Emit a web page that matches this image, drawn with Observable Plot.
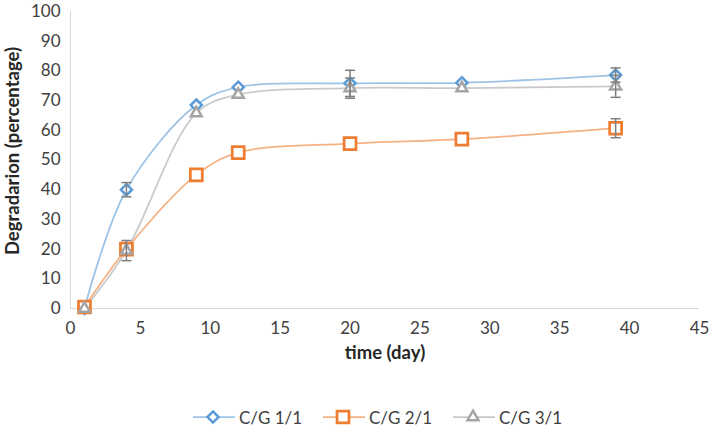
<!DOCTYPE html>
<html>
<head>
<meta charset="utf-8">
<script src="https://cdn.jsdelivr.net/npm/d3@7"></script>
<script src="https://cdn.jsdelivr.net/npm/@observablehq/plot@0.6"></script>
<style>
  body { margin: 0; background: #fff; font-family: Lato, "Open Sans", sans-serif; }
  #legend { display: flex; padding-left: 193px; margin-top: 26px; height: 22px; align-items: center; font-size: 17px; color: #404040; }
  .item { display: flex; align-items: center; width: 130px; }
  .item svg { margin-right: 4px; }
</style>
</head>
<body>
<div id="chart"></div>
<div id="legend"></div>
<script>
const days = [1, 4, 9, 12, 20, 28, 39];
const cg11 = [0, 40, 68.5, 74.5, 75.8, 76, 78.6];
const cg21 = [0.5, 20, 45, 52.5, 55.5, 57, 60.7];
const cg31 = [0, 19.5, 65.8, 72, 74.2, 74.2, 74.8];
const err11 = [0, 2.4, 0, 0, 4.4, 0, 2.4];
const err21 = [0, 0, 0, 0, 0, 0, 3.2];
const err31 = [0, 3.4, 0, 0, 3.4, 0, 3.7];
const seriesNames = ["C/G 1/1", "C/G 2/1", "C/G 3/1"];
const xTicks = [0, 5, 10, 15, 20, 25, 30, 35, 40, 45];
const yTicks = [0, 10, 20, 30, 40, 50, 60, 70, 80, 90, 100];
const xTitle = "time (day)";
const yTitle = "Degradarion (percentage)";

const style = [
  {name: seriesNames[0], vals: cg11, errs: err11, marker: "#5b9bd5", line: "#9dc3e6", symbol: d3.symbolDiamond2, r: 5, sw: 2.5},
  {name: seriesNames[1], vals: cg21, errs: err21, marker: "#ed7d31", line: "#f4b183", symbol: d3.symbolSquare2, r: 7.6, sw: 2.75},
  {name: seriesNames[2], vals: cg31, errs: err31, marker: "#a5a5a5", line: "#c9c9c9", symbol: d3.symbolTriangle2, r: 5.2, sw: 2.5}
];

const rows = style.map(s => days.map((d, i) => ({day: d, v: s.vals[i], e: s.errs[i], name: s.name})));
const errRows = rows.flat().filter(d => d.e > 0);

const cap = {draw(ctx) { ctx.moveTo(-5, 0); ctx.lineTo(5, 0); }};
const errColor = "#7f7f7f";

const marks = [
  Plot.ruleY([0], {stroke: "#d9d9d9", strokeWidth: 1}),
  Plot.ruleX([0], {stroke: "#d9d9d9", strokeWidth: 1}),
  Plot.axisX({ticks: xTicks, tickSize: 0, tickPadding: 13, label: null, fontSize: 17, fill: "#404040"}),
  Plot.axisY({ticks: yTicks, tickSize: 0, tickPadding: 10, label: null, fontSize: 17, fill: "#404040"}),
];
[2, 1, 0].forEach(k => {
  marks.push(Plot.line(rows[k], {x: "day", y: "v", stroke: style[k].line, strokeWidth: 1.75, curve: "catmull-rom"}));
});
style.forEach((s, k) => {
  marks.push(Plot.dot(rows[k], {x: "day", y: "v", symbol: s.symbol, r: s.r, stroke: s.marker, strokeWidth: s.sw, fill: "white"}));
});
marks.push(
  Plot.ruleX(errRows, {x: "day", y1: d => d.v - d.e, y2: d => d.v + d.e, stroke: errColor, strokeWidth: 1.5}),
  Plot.dot(errRows, {x: "day", y: d => d.v + d.e, symbol: cap, stroke: errColor, strokeWidth: 1.5}),
  Plot.dot(errRows, {x: "day", y: d => d.v - d.e, symbol: cap, stroke: errColor, strokeWidth: 1.5}),
  Plot.text([xTitle], {frameAnchor: "bottom", dy: 45, lineAnchor: "middle", textAnchor: "middle", fontWeight: "bold", fontSize: 18.5, fill: "#262626"}),
  Plot.text([yTitle], {frameAnchor: "left", dx: -57, dy: -9, rotate: -90, lineAnchor: "middle", textAnchor: "middle", fontWeight: "bold", fontSize: 18.5, fill: "#262626"})
);

const chart = Plot.plot({
  width: 709,
  height: 380,
  marginLeft: 70,
  marginRight: 10,
  marginTop: 11,
  marginBottom: 72,
  style: {fontFamily: "Lato, 'Open Sans', sans-serif", fontSize: "17px", background: "white"},
  x: {domain: [0, 45]},
  y: {domain: [0, 100]},
  marks
});
document.getElementById("chart").appendChild(chart);

const legend = d3.select("#legend");
style.forEach(s => {
  const item = legend.append("div").attr("class", "item");
  const svg = item.append("svg").attr("width", 42).attr("height", 20);
  svg.append("line").attr("x1", 0).attr("x2", 42).attr("y1", 10).attr("y2", 10).attr("stroke", s.line).attr("stroke-width", 1.75);
  svg.append("path").attr("transform", "translate(20,10)")
    .attr("d", d3.symbol(s.symbol, Math.PI * s.r * s.r)())
    .attr("fill", "white").attr("stroke", s.marker).attr("stroke-width", s.sw);
  item.append("span").text(s.name);
});
</script>
</body>
</html>
